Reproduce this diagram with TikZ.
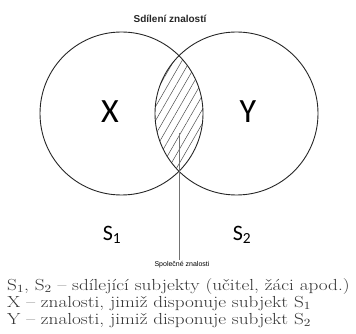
\documentclass[tikz,border=0pt]{standalone}
\usepackage{fontspec}
\usetikzlibrary{patterns.meta}
\newfontfamily\calibrifont{Carlito}
\newfontfamily\arialfont{Liberation Sans}

\begin{document}
\begin{tikzpicture}[x=1pt,y=-1pt,
    kruh/.style={draw=black!85, line width=0.9pt},
    pismeno/.style={font=\calibrifont\fontsize{34}{34}\selectfont},
    subjekt/.style={font=\calibrifont\fontsize{22}{22}\selectfont},
    popis/.style={font=\fontsize{16}{17}\selectfont, text=black!80, anchor=north west, inner sep=0pt}]
    \useasboundingbox (0,0) rectangle (356,334);
    \coordinate (stred1) at (121.5,113.5);
    \coordinate (stred2) at (236.5,113.5);
    % srafovany prunik
    \begin{scope}
        \clip (stred1) circle [radius=81.5pt];
        \fill[pattern={Lines[angle=60,distance=7pt,line width=0.5pt]}, pattern color=black!70] (stred2) circle [radius=81.5pt];
    \end{scope}
    \draw[kruh] (stred1) circle [radius=81.5pt];
    \draw[kruh] (stred2) circle [radius=81.5pt];
    \node[font=\arialfont\bfseries\fontsize{10}{10}\selectfont, text=black!85] (nadpis) at (170,19) {Sdílení znalostí};
    \node[pismeno] (x) at (110,112) {X};
    \node[pismeno] (y) at (248,112) {Y};
    \node[subjekt] (s1) at (112,235) {S\textsubscript{1}};
    \node[subjekt] (s2) at (242,235) {S\textsubscript{2}};
    \coordinate (vnitrek) at (179,133);
    \node[font=\arialfont\fontsize{7}{7}\selectfont, inner sep=1pt] (spolecne) at (182,265) {Společné znalosti};
    \draw[black!55, line width=0.8pt] (vnitrek) -- (spolecne.north -| vnitrek);
    % legenda
    \node[popis] (legenda) at (7,278) {\scalebox{1.2}[1]{\begin{tabular}{@{}l@{}}
        $\mathrm{S}_1$, $\mathrm{S}_2$ -- sdílející subjekty (učitel, žáci apod.)\\
        X -- znalosti, jimiž disponuje subjekt $\mathrm{S}_1$\\
        Y -- znalosti, jimiž disponuje subjekt $\mathrm{S}_2$
    \end{tabular}}};
\end{tikzpicture}
\end{document}
